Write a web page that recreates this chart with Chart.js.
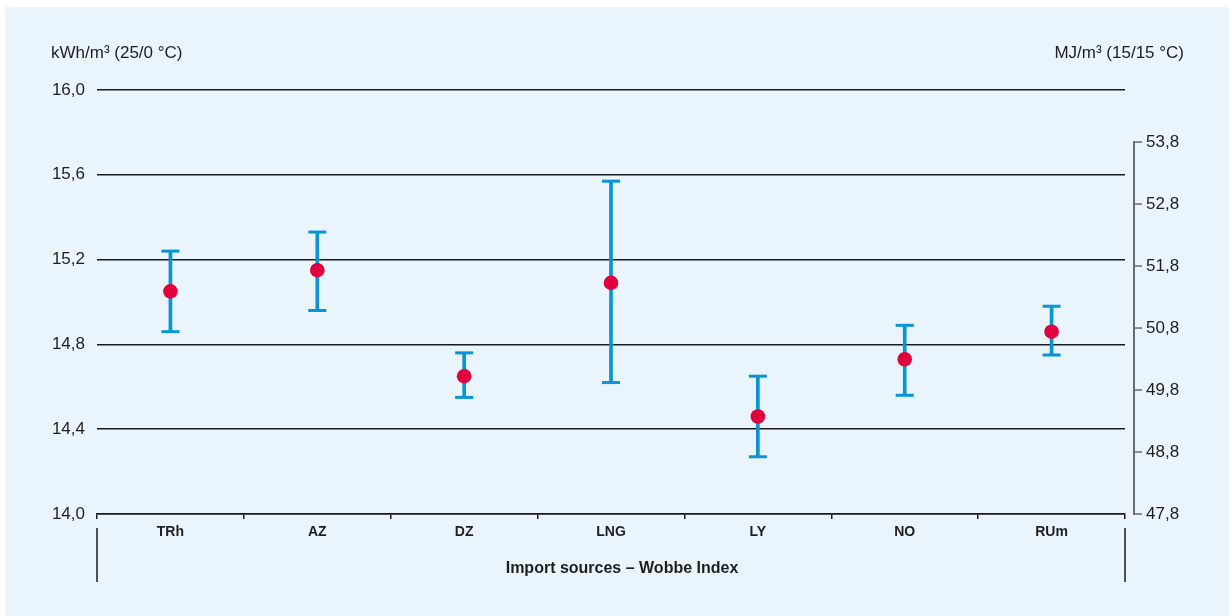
<!DOCTYPE html>
<html>
<head>
<meta charset="utf-8">
<script src="https://cdn.jsdelivr.net/npm/chart.js@4/dist/chart.umd.min.js"></script>
<style>
  html, body { margin: 0; padding: 0; background: #ffffff; overflow: hidden; }
  #bg { position: absolute; left: 5px; top: 7px; width: 1224px; height: 609px; background: #eaf4fd; }
  #box { position: absolute; left: 0; top: 0; width: 1229px; height: 616px; }
</style>
</head>
<body>
<div id="bg"></div>
<div id="box"><canvas id="c" width="1229" height="616"></canvas></div>
<script>
// ---- data ----
const categories = ['TRh', 'AZ', 'DZ', 'LNG', 'LY', 'NO', 'RUm'];
const meanValues = [15.05, 15.15, 14.65, 15.09, 14.46, 14.73, 14.86];
const lowValues  = [14.86, 14.96, 14.55, 14.62, 14.27, 14.56, 14.75];
const highValues = [15.24, 15.33, 14.76, 15.57, 14.65, 14.89, 14.98];
const leftTicks  = [14.0, 14.4, 14.8, 15.2, 15.6, 16.0];
const rightTicks = [47.8, 48.8, 49.8, 50.8, 51.8, 52.8, 53.8];
const leftTitle  = 'kWh/m³ (25/0 °C)';
const rightTitle = 'MJ/m³ (15/15 °C)';
const xTitle     = 'Import sources – Wobbe Index';

const FONT = "'Liberation Sans', Arial, sans-serif";
const TXT = '#1e1e1e';
const BLUE = '#0795d6';
const RED = '#e2003c';

const fmt = v => Number(v).toFixed(1).replace('.', ',');

const extras = {
  id: 'extras',
  afterDraw(chart) {
    const ctx = chart.ctx;
    const x = chart.scales.x;
    const y2 = chart.scales.y2;
    ctx.save();
    // axis unit titles
    ctx.fillStyle = TXT;
    ctx.font = "17px " + FONT;
    ctx.textBaseline = 'middle';
    ctx.textAlign = 'left';
    ctx.fillText(leftTitle, 51, 53);
    ctx.textAlign = 'right';
    ctx.fillText(rightTitle, 1184, 53);
    // x-axis title
    ctx.font = "bold 16px " + FONT;
    ctx.textAlign = 'center';
    ctx.fillText(xTitle, 622, 569);
    // right axis line and ticks
    const ax = y2.left + 9;
    const yTop = y2.getPixelForValue(rightTicks[rightTicks.length - 1]);
    const yBot = y2.getPixelForValue(rightTicks[0]);
    ctx.strokeStyle = '#6b6b6b';
    ctx.lineWidth = 2;
    ctx.beginPath();
    ctx.moveTo(ax, yTop - 1);
    ctx.lineTo(ax, yBot + 1);
    ctx.stroke();
    ctx.lineWidth = 1.5;
    rightTicks.forEach(v => {
      const py = y2.getPixelForValue(v);
      ctx.beginPath();
      ctx.moveTo(ax, py);
      ctx.lineTo(ax + 8, py);
      ctx.stroke();
    });
    // x-axis bracket
    ctx.strokeStyle = '#1a1a1a';
    ctx.lineWidth = 1.5;
    [x.left, x.right].forEach(px => {
      ctx.beginPath();
      ctx.moveTo(px, 528);
      ctx.lineTo(px, 582);
      ctx.stroke();
    });
    ctx.restore();
  }
};

new Chart(document.getElementById('c'), {
  type: 'bar',
  data: {
    labels: categories,
    datasets: [
      {
        type: 'line', label: 'mean', data: meanValues, showLine: false,
        pointRadius: 7.3, pointHoverRadius: 7.3, pointBackgroundColor: RED,
        pointBorderWidth: 0, pointBorderColor: RED, order: 1, yAxisID: 'y'
      },
      {
        type: 'line', label: 'high', data: highValues, showLine: false,
        pointStyle: 'line', pointRadius: 9, pointHoverRadius: 9,
        pointBorderWidth: 3, pointBorderColor: BLUE, order: 2, yAxisID: 'y'
      },
      {
        type: 'line', label: 'low', data: lowValues, showLine: false,
        pointStyle: 'line', pointRadius: 9, pointHoverRadius: 9,
        pointBorderWidth: 3, pointBorderColor: BLUE, order: 2, yAxisID: 'y'
      },
      {
        type: 'bar', label: 'range',
        data: categories.map((c, i) => [lowValues[i], highValues[i]]),
        backgroundColor: BLUE, barThickness: 3, borderWidth: 0, order: 3, yAxisID: 'y'
      }
    ]
  },
  options: {
    responsive: false,
    animation: false,
    events: [],
    layout: { padding: { top: 90, left: 0, right: 0, bottom: 0 } },
    plugins: { legend: { display: false }, tooltip: { enabled: false }, title: { display: false } },
    scales: {
      x: {
        offset: true,
        grid: { offset: true, drawOnChartArea: false, drawTicks: true, tickLength: 5, color: '#1a1a1a', lineWidth: 1.5 },
        border: { display: true, color: '#1a1a1a', width: 1.5 },
        ticks: { color: TXT, font: { family: FONT, size: 14, weight: 'bold' }, padding: 5, maxRotation: 0 },
        title: { display: false },
        afterFit(s) { s.height = 102; }
      },
      y: {
        position: 'left',
        min: leftTicks[0], max: leftTicks[leftTicks.length - 1],
        afterBuildTicks(s) { s.ticks = leftTicks.map(v => ({ value: v })); },
        grid: { color: '#1a1a1a', lineWidth: 1.5, drawTicks: false },
        border: { display: false },
        ticks: { color: TXT, font: { family: FONT, size: 17 }, padding: 12, callback: v => fmt(v) },
        afterFit(s) { s.width = 97; }
      },
      y2: {
        position: 'right',
        min: rightTicks[0], max: 54.64,
        afterBuildTicks(s) { s.ticks = rightTicks.map(v => ({ value: v })); },
        grid: { drawOnChartArea: false, drawTicks: false },
        border: { display: false },
        ticks: { color: TXT, font: { family: FONT, size: 17 }, padding: 21, callback: v => fmt(v) },
        afterFit(s) { s.width = 104; }
      }
    }
  },
  plugins: [extras]
});
</script>
</body>
</html>
